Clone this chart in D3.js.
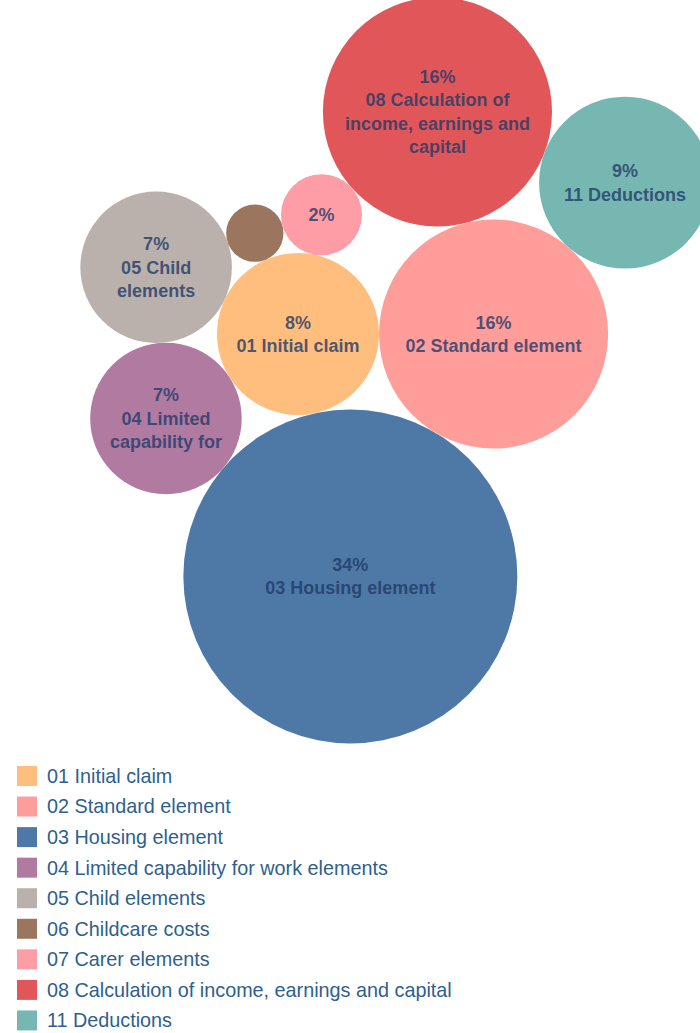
<!DOCTYPE html>
<html>
<head>
<meta charset="utf-8">
<script src="https://cdn.jsdelivr.net/npm/d3@7"></script>
<style>
  body { margin: 0; background: #ffffff; }
  svg { display: block; font-family: "Liberation Sans", Arial, sans-serif; }
</style>
</head>
<body>
<svg id="chart" width="700" height="1033"></svg>
<script>
// Share of cases by element (percent)
const categories = [
  "01 Initial claim",
  "02 Standard element",
  "03 Housing element",
  "04 Limited capability for work elements",
  "05 Child elements",
  "06 Childcare costs",
  "07 Carer elements",
  "08 Calculation of income, earnings and capital",
  "11 Deductions"
];
const shares = [8, 16, 34, 7, 7, 1, 2, 16, 9];
const palette = [
  "#ffbe7d", "#ff9d9a", "#4e79a7", "#b07aa1", "#bab0ac",
  "#9c755f", "#ff9da7", "#e15759", "#76b7b2"
];

const svg = d3.select("#chart");

// Bubble area proportional to share
const radius = d3.scaleSqrt().domain([0, d3.max(shares)]).range([0, 167]);
const color = d3.scaleOrdinal().domain(categories).range(palette);

const nodes = categories.map((name, i) => ({ name, value: shares[i], r: radius(shares[i]) }));

// Front-chain sibling packing: every new bubble is set tangent to the
// anchor bubble and the previously placed one, stepping round the chain
// whenever it would overlap a bubble already placed.
function packChain(list) {
  const n = list.length;
  list.forEach(d => { d.next = d.prev = d; });
  const insert = (a, b) => { const c = a.next; a.next = b; b.prev = a; b.next = c; c.prev = b; };
  const splice = (a, b) => { a.next = b; b.prev = a; };
  const intersects = (a, b) => {
    const dx = b.x - a.x, dy = b.y - a.y, dr = a.r + b.r;
    return 0.999 * dr * dr > dx * dx + dy * dy;
  };
  const place = (a, b, c) => {
    let db = a.r + c.r;
    const dx = b.x - a.x, dy = b.y - a.y;
    if (db && (dx || dy)) {
      let da = b.r + c.r;
      const dc = dx * dx + dy * dy;
      da *= da; db *= db;
      const x = 0.5 + (db - da) / (2 * dc);
      const y = Math.sqrt(Math.max(0, 2 * da * (db + dc) - (db -= dc) * db - da * da)) / (2 * dc);
      c.x = a.x + x * dx + y * dy;
      c.y = a.y + x * dy - y * dx;
    } else {
      c.x = a.x + db; c.y = a.y;
    }
  };
  let a = list[0], b, c;
  a.x = -a.r; a.y = 0;
  if (n > 1) {
    b = list[1]; b.x = b.r; b.y = 0;
    if (n > 2) {
      c = list[2];
      place(a, b, c);
      insert(a, c); a.prev = c; insert(c, b);
      b = a.next;
      for (let i = 3; i < n; i++) {
        place(a, b, c = list[i]);
        let isect = 0, s1 = 1, s2 = 1, j, k;
        for (j = b.next; j !== b; j = j.next, s1++) {
          if (intersects(j, c)) { isect = 1; break; }
        }
        if (isect === 1) {
          for (k = a.prev; k !== j.prev; k = k.prev, s2++) {
            if (intersects(k, c)) break;
          }
        }
        if (isect) {
          if (s1 < s2 || (s1 === s2 && b.r < a.r)) splice(a, b = j);
          else splice(a = k, b);
          i--;
        } else {
          insert(a, c);
          b = c;
        }
      }
    }
  }
  list.forEach(d => { d.y = -d.y; delete d.next; delete d.prev; });
  return list;
}
packChain(nodes);

// anchor bubble sits left of the cluster origin
const origin = { x: 298 + nodes[0].r, y: 334 };

const bubbles = svg.append("g")
  .attr("transform", `translate(${origin.x},${origin.y})`);

bubbles.selectAll("circle")
  .data(nodes)
  .join("circle")
  .attr("cx", d => d.x)
  .attr("cy", d => d.y)
  .attr("r", d => d.r)
  .attr("fill", d => color(d.name));

// Labels: percentage then the wrapped name, limited to what fits inside
const fontSize = 18;
const lineH = 23.5;
const measurer = svg.append("text")
  .attr("font-size", fontSize)
  .attr("font-weight", "bold")
  .attr("visibility", "hidden");
const textWidth = s => { measurer.text(s); return measurer.node().getComputedTextLength(); };

function labelLines(d) {
  const maxLines = Math.floor((1.2 * d.r - 12) / lineH);
  if (maxLines < 1) return [];
  const lines = [Math.round(d.value) + "%"];
  const maxW = 1.75 * d.r;
  const words = d.name.split(" ");
  let cur = "";
  const wrapped = [];
  words.forEach(w => {
    const test = cur ? cur + " " + w : w;
    if (textWidth(test) <= maxW || !cur) cur = test;
    else { wrapped.push(cur); cur = w; }
  });
  if (cur) wrapped.push(cur);
  wrapped.forEach(l => { if (lines.length < maxLines && textWidth(l) <= maxW) lines.push(l); });
  return lines;
}

const labels = bubbles.selectAll("text.label")
  .data(nodes)
  .join("text")
  .attr("class", "label")
  .attr("text-anchor", "middle")
  .attr("font-size", fontSize)
  .attr("font-weight", "bold")
  .attr("fill", "#1f3a68")
  .attr("fill-opacity", 0.8)
  .attr("x", d => d.x)
  .attr("y", d => d.y);

labels.each(function (d) {
  const lines = labelLines(d);
  const t = d3.select(this);
  const first = -(lines.length - 1) / 2 * lineH;
  lines.forEach((l, i) => {
    t.append("tspan")
      .attr("x", d.x)
      .attr("y", d.y + first + i * lineH)
      .attr("dy", "0.35em")
      .text(l);
  });
});
measurer.remove();

// Legend
const legendRow = d3.scaleBand().domain(categories).range([762, 1037]);
const legend = svg.append("g").selectAll("g")
  .data(categories)
  .join("g")
  .attr("transform", d => `translate(17,${legendRow(d)})`);

legend.append("rect")
  .attr("width", 20)
  .attr("height", 20)
  .attr("y", 4)
  .attr("fill", d => color(d));

legend.append("text")
  .attr("x", 30)
  .attr("y", 14)
  .attr("dy", "0.35em")
  .attr("font-size", 19.8)
  .attr("fill", "#2e5f8f")
  .text(d => d);
</script>
</body>
</html>
